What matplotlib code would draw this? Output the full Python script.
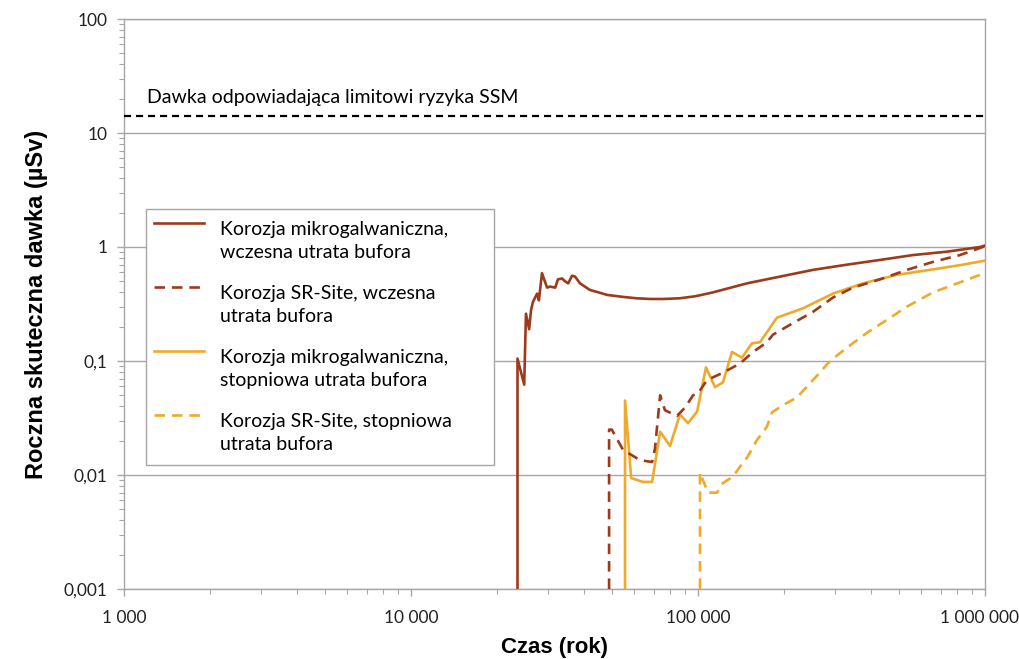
import matplotlib
matplotlib.use("Agg")
import matplotlib.pyplot as plt
from matplotlib.ticker import FixedLocator, LogLocator, NullFormatter
from matplotlib.transforms import ScaledTranslation

# ---- data ----
x_mg_early = [23500, 23500, 24800, 25150, 25800, 26200, 26600, 27500, 27900, 28600, 29100,
              29800, 30500, 31800, 32500, 33600, 34400, 35300, 36400, 37300, 38800, 42000,
              45000, 48200, 54800, 61000, 68000, 76000, 86500, 98000, 112800, 148200, 193100,
              251600, 330400, 430600, 561300, 737600, 961000, 1000000]
y_mg_early = [0.001, 0.105, 0.062, 0.26, 0.19, 0.28, 0.33, 0.39, 0.34, 0.59, 0.52,
              0.44, 0.45, 0.44, 0.52, 0.53, 0.50, 0.48, 0.56, 0.55, 0.48, 0.42,
              0.40, 0.38, 0.365, 0.355, 0.35, 0.35, 0.355, 0.37, 0.40, 0.48, 0.55,
              0.63, 0.70, 0.77, 0.85, 0.91, 1.0, 1.03]

x_sr_early = [49000, 49000, 50100, 54800, 62800, 69200, 70800, 73800, 76700, 84500, 90100,
              96100, 100000, 107500, 122200, 140000, 155500, 173800, 182400, 214300, 251600,
              295200, 346700, 430600, 534600, 658900, 818500, 961000, 1000000]
y_sr_early = [0.001, 0.025, 0.025, 0.0166, 0.0135, 0.013, 0.017, 0.050, 0.037, 0.033, 0.039,
              0.050, 0.052, 0.068, 0.079, 0.095, 0.12, 0.146, 0.17, 0.215, 0.27,
              0.36, 0.44, 0.52, 0.63, 0.74, 0.85, 0.98, 1.02]

x_mg_grad = [55700, 55700, 58500, 64300, 69200, 73800, 79900, 86500, 92300, 99300, 106600,
             114600, 122200, 131300, 142300, 154200, 164400, 188400, 232200, 295200, 375800,
             493300, 643100, 838100, 1000000]
y_mg_grad = [0.001, 0.045, 0.0094, 0.0087, 0.0087, 0.024, 0.018, 0.034, 0.0285, 0.036, 0.088,
             0.059, 0.065, 0.12, 0.107, 0.143, 0.146, 0.24, 0.29, 0.39, 0.48,
             0.57, 0.63, 0.70, 0.76]

x_sr_grad = [101600, 101600, 108300, 116400, 122200, 132400, 140000, 148200, 160600, 173800,
             181100, 197800, 221300, 251600, 288400, 330400, 388100, 455800, 534600, 658900,
             818500, 961000, 1000000]
y_sr_grad = [0.001, 0.0105, 0.007, 0.007, 0.0085, 0.0097, 0.0118, 0.0142, 0.0203, 0.0265,
             0.0355, 0.041, 0.048, 0.068, 0.10, 0.131, 0.177, 0.23, 0.30, 0.40,
             0.49, 0.57, 0.62]

ssm_limit = 14
ssm_label = "Dawka odpowiadająca limitowi ryzyka SSM"

labels = ["Korozja mikrogalwaniczna,\nwczesna utrata bufora",
          "Korozja SR-Site, wczesna\nutrata bufora",
          "Korozja mikrogalwaniczna,\nstopniowa utrata bufora",
          "Korozja SR-Site, stopniowa\nutrata bufora"]

x_ticks = [1000, 10000, 100000, 1000000]
x_ticklabels = ["1 000", "10 000", "100 000", "1 000 000"]
y_ticks = [0.001, 0.01, 0.1, 1, 10, 100]
y_ticklabels = ["0,001", "0,01", "0,1", "1", "10", "100"]

xlabel = "Czas (rok)"
ylabel = "Roczna skuteczna dawka (µSv)"

# ---- styling ----
brown = "#9C3B1C"
orange = "#EFAA2B"
grid_c = "#A6A6A6"
txt_font = ["Lato", "DejaVu Sans"]

fig = plt.figure(figsize=(10.19, 6.59), dpi=100)
ax = fig.add_axes([124 / 1019, 1 - 589 / 659, (985 - 124) / 1019, (589 - 19) / 659])

ax.set_xscale("log")
ax.set_yscale("log")
ax.set_xlim(1000, 1000000)
ax.set_ylim(0.001, 100)

lw = 1.9
dash = (0, (4, 2.6))
l1, = ax.plot(x_mg_early, y_mg_early, color=brown, lw=lw, label=labels[0], zorder=4)
l2, = ax.plot(x_sr_early, y_sr_early, color=brown, lw=lw, linestyle=dash, label=labels[1], zorder=4)
l3, = ax.plot(x_mg_grad, y_mg_grad, color=orange, lw=lw, label=labels[2], zorder=3)
l4, = ax.plot(x_sr_grad, y_sr_grad, color=orange, lw=lw, linestyle=dash, label=labels[3], zorder=3)

ax.axhline(ssm_limit, color="black", lw=1.6, linestyle=(0, (3.2, 2.2)), zorder=3)
ax.text(1200, ssm_limit * 1.22, ssm_label, fontsize=14, family=txt_font,
        color="black", va="bottom", ha="left")

# grid / spines
for yt in y_ticks:
    ax.axhline(yt, color=grid_c, lw=1.0, zorder=1)
for s in ["left", "bottom", "right", "top"]:
    ax.spines[s].set_color(grid_c)
    ax.spines[s].set_linewidth(1.0)

ax.xaxis.set_major_locator(FixedLocator(x_ticks))
ax.set_xticklabels(x_ticklabels)
ax.yaxis.set_major_locator(FixedLocator(y_ticks))
ax.set_yticklabels(y_ticklabels)
ax.xaxis.set_minor_locator(LogLocator(base=10, subs=range(2, 10)))
ax.yaxis.set_minor_locator(LogLocator(base=10, subs=range(2, 10)))
ax.xaxis.set_minor_formatter(NullFormatter())
ax.yaxis.set_minor_formatter(NullFormatter())
ax.tick_params(which="major", length=5, color=grid_c, width=1.0, direction="out")
ax.tick_params(axis="y", labelsize=12.5, pad=7)
ax.tick_params(axis="x", labelsize=12.5, pad=10)
ax.tick_params(which="minor", length=3.5, color=grid_c, width=0.8, direction="out")
for lab in ax.get_xticklabels() + ax.get_yticklabels():
    lab.set_family(txt_font)
    lab.set_color("#222222")
# keep the last x label inside the figure, as in the reference
last = ax.get_xticklabels()[-1]
last.set_transform(last.get_transform() + ScaledTranslation(-6 / 100, 0, fig.dpi_scale_trans))

ax.set_xlabel(xlabel, fontsize=16, fontweight="bold", family="Liberation Sans", labelpad=8)
ax.set_ylabel(ylabel, fontsize=17, fontweight="bold", family="Liberation Sans", labelpad=11)

leg = ax.legend(handles=[l1, l2, l3, l4], loc="upper left",
                bbox_to_anchor=(146 / 1019, 1 - 209 / 659 - 0.01, (494 - 146) / 1019, 0.01),
                bbox_transform=fig.transFigure, mode="expand",
                prop={"family": txt_font, "size": 14}, frameon=True, fancybox=False,
                edgecolor=grid_c, framealpha=1, handlelength=2.6, handletextpad=0.6,
                labelspacing=1.22, borderpad=0.6, borderaxespad=0)
leg.get_frame().set_linewidth(1.0)
for t in leg.get_texts():
    t.set_linespacing(1.45)
# align each legend handle with the first line of its label
for ln in leg.get_lines():
    yd = ln.get_ydata()
    ln.set_ydata([v + 13 for v in yd])
    xd = ln.get_xdata()
    ln.set_xdata([v - 3 for v in xd])

fig.savefig("out.png", dpi=100)
